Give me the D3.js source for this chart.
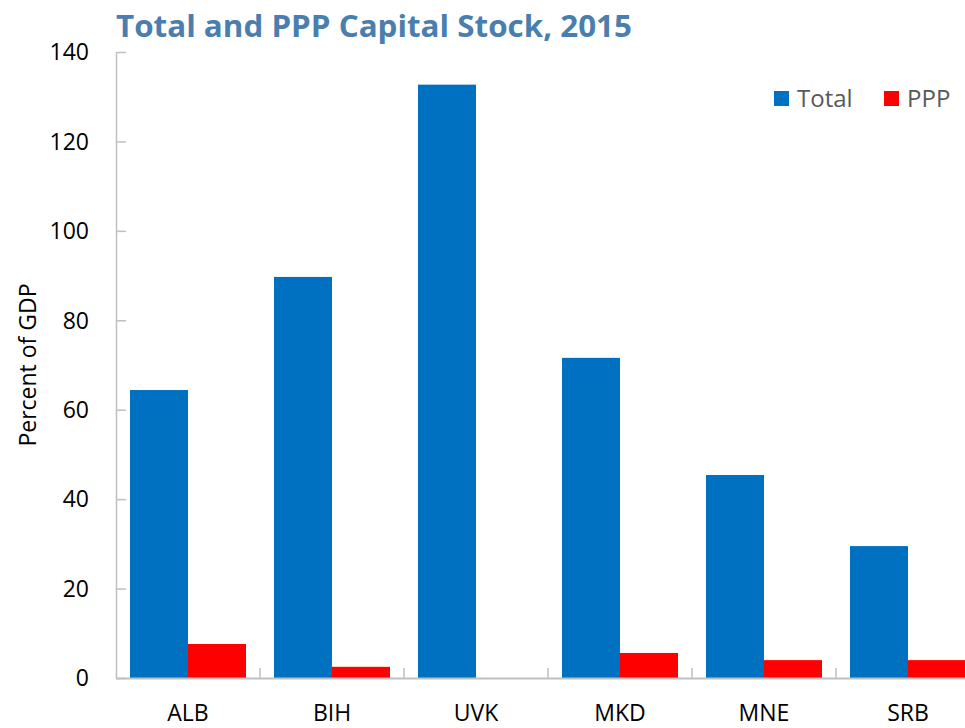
<!DOCTYPE html>
<html>
<head>
<meta charset="utf-8">
<script src="https://cdn.jsdelivr.net/npm/d3@7"></script>
<style>
  html, body { margin: 0; padding: 0; background: #fff; overflow: hidden; }
  svg { display: block; font-family: "Open Sans", "Noto Sans", sans-serif; }
</style>
</head>
<body>
<svg id="chart" width="965" height="728"></svg>
<script>
const categories = ["ALB", "BIH", "UVK", "MKD", "MNE", "SRB"];
const seriesNames = ["Total", "PPP"];
const totalValues = [64.4, 89.7, 132.7, 71.6, 45.4, 29.5];
const pppValues = [7.6, 2.5, 0, 5.6, 4.0, 4.0];
const yTicks = [0, 20, 40, 60, 80, 100, 120, 140];
const colors = ["#0070c0", "#ff0000"];
const titleText = "Total and PPP Capital Stock, 2015";
const yLabel = "Percent of GDP";

(function () {
const svg = d3.select("#chart");
const mLeft = 116, mRight = 980, mTop = 52, mBottom = 678;

const x = d3.scaleBand().domain(categories).range([mLeft, mRight]).paddingInner(0).paddingOuter(0);
const xs = d3.scaleBand().domain(seriesNames).range([14, x.bandwidth() - 14]).padding(0);
const y = d3.scaleLinear().domain([0, 140]).range([mBottom, mTop]);

const data = categories.map((c, i) => ({ cat: c, vals: [totalValues[i], pppValues[i]] }));

// bars
const g = svg.append("g");
data.forEach(d => {
  seriesNames.forEach((s, j) => {
    const v = d.vals[j];
    if (v <= 0) return;
    g.append("rect")
      .attr("x", x(d.cat) + xs(s))
      .attr("y", y(v))
      .attr("width", xs.bandwidth())
      .attr("height", y(0) - y(v))
      .attr("fill", colors[j]);
  });
});

// y axis
const yAxis = d3.axisRight(y).tickValues(yTicks).tickSize(10).tickFormat("");
const ya = svg.append("g").attr("transform", `translate(${mLeft},0)`).call(yAxis);
ya.selectAll("path, line").attr("stroke", "#bfbfbf").attr("stroke-width", 1.5);
ya.select(".domain").attr("d", `M0.5,${mTop}V${mBottom}`);
svg.append("g").selectAll("text").data(yTicks).join("text")
  .attr("x", 89).attr("y", d => y(d)).attr("dy", "0.36em")
  .attr("text-anchor", "end").attr("font-size", 23).attr("fill", "#000")
  .text(d => d);

// x axis
svg.append("line").attr("x1", mLeft).attr("x2", mRight).attr("y1", mBottom + 0.5).attr("y2", mBottom + 0.5)
  .attr("stroke", "#bfbfbf").attr("stroke-width", 2);
svg.append("g").selectAll("line").data(categories).join("line")
  .attr("x1", d => x(d) + x.bandwidth())
  .attr("x2", d => x(d) + x.bandwidth())
  .attr("y1", mBottom).attr("y2", mBottom - 10)
  .attr("stroke", "#bfbfbf").attr("stroke-width", 1.5);
svg.append("g").selectAll("text").data(categories).join("text")
  .attr("x", d => x(d) + x.bandwidth() / 2).attr("y", 721)
  .attr("text-anchor", "middle").attr("font-size", 23).attr("fill", "#000")
  .text(d => d);

// y label
svg.append("text").attr("transform", "translate(36,365) rotate(-90)")
  .attr("text-anchor", "middle").attr("font-size", 23).attr("fill", "#000")
  .text(yLabel);

// title
svg.append("text").attr("x", 116).attr("y", 37)
  .attr("font-size", 31).attr("font-weight", "bold").attr("fill", "#4a7eae")
  .attr("textLength", 516).attr("lengthAdjust", "spacingAndGlyphs")
  .text(titleText);

// legend
const legendX = [774, 884];
seriesNames.forEach((s, j) => {
  svg.append("rect").attr("x", legendX[j]).attr("y", 91).attr("width", 15).attr("height", 15).attr("fill", colors[j]);
  svg.append("text").attr("x", legendX[j] + 23).attr("y", 107)
    .attr("font-size", 24).attr("fill", "#595959").text(s);
});
})();
</script>
</body>
</html>
